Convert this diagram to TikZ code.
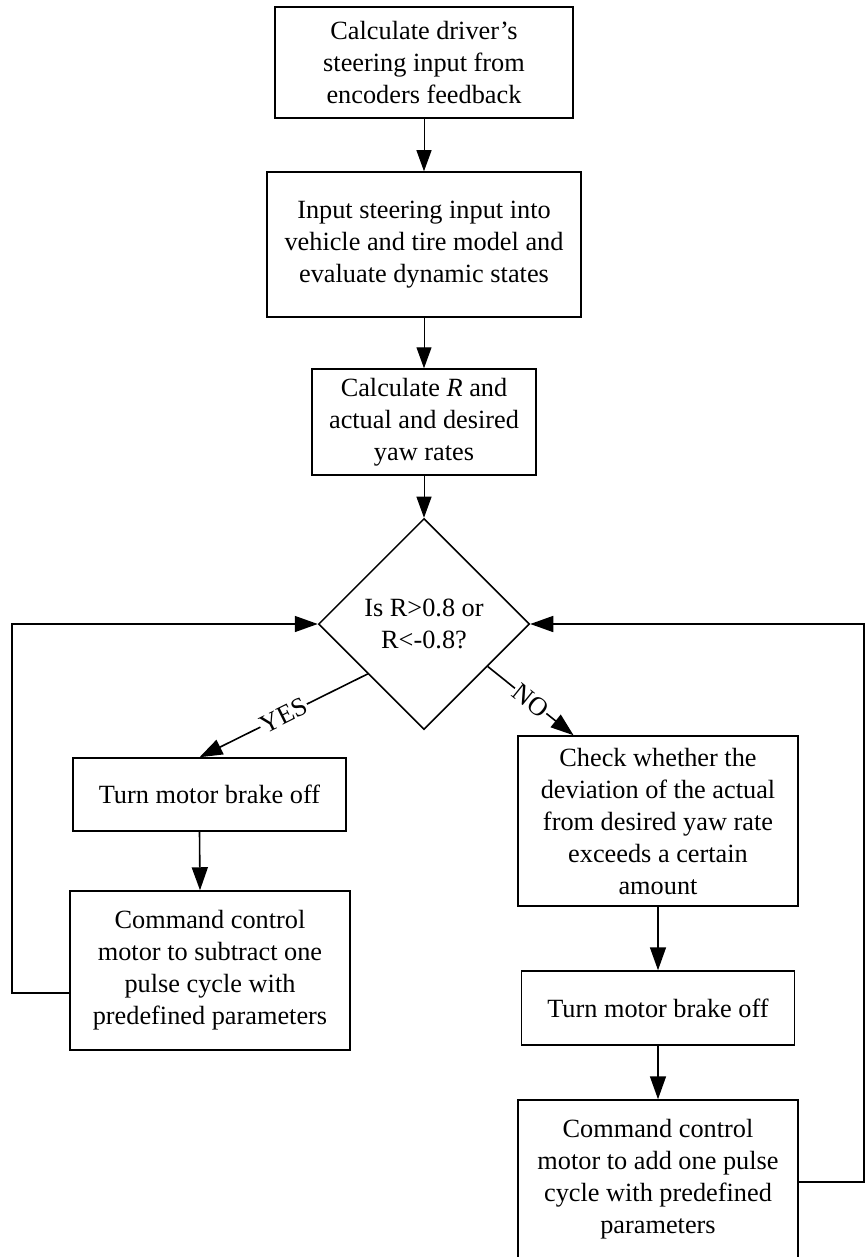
\documentclass[tikz,border=0pt]{standalone}
\usepackage{fontspec}
\setmainfont{Liberation Serif}
\usetikzlibrary{arrows.meta,shapes.geometric,calc}

\begin{document}
\begin{tikzpicture}[x=1pt,y=-1pt,
    every node/.style={font=\fontsize{26.3}{32}\selectfont},
    box/.style={draw,line width=1.5pt,align=center,inner sep=0pt},
    thinflow/.style={line width=1pt,-{Triangle[length=21pt,width=15pt]}},
    flow/.style={line width=1.6pt,-{Triangle[length=23pt,width=16pt]}},
    tag/.style={fill=white,inner sep=1pt,sloped}]
  \useasboundingbox (0,0) rectangle (865,1257);
  %% main column
  \node[box,minimum width=298pt,minimum height=111pt] (enc) at (424,62.5)
    {Calculate driver’s\\steering input from\\encoders feedback};
  \node[box,minimum width=314pt,minimum height=145pt] (model) at (424,244.5)
    {Input steering input into\\vehicle and tire model and\\evaluate dynamic states};
  \node[box,minimum width=224pt,minimum height=106pt] (ratio) at (424,422)
    {Calculate \textit{R} and\\actual and desired\\yaw rates};
  \node[draw,diamond,aspect=1,line width=1.5pt,inner sep=0pt,align=center,
        minimum width=211pt,minimum height=211pt] (test) at (424,624)
    {Is R>0.8 or\\R<-0.8?};
  %% YES branch
  \node[box,minimum width=273pt,minimum height=73pt] (yesoff) at (209.5,794.5)
    {Turn motor brake off};
  \node[box,minimum width=280pt,minimum height=159pt] (yescmd) at (210,970.5)
    {Command control\\motor to subtract one\\pulse cycle with\\predefined parameters};
  %% NO branch
  \node[box,minimum width=280pt,minimum height=170pt] (dev) at (658,821)
    {Check whether the\\deviation of the actual\\from desired yaw rate\\exceeds a certain\\amount};
  \node[box,minimum width=273pt,minimum height=74pt] (nooff) at (658,1008)
    {Turn motor brake off};
  \node[box,minimum width=280pt,minimum height=159pt] (nocmd) at (658,1179.5)
    {Command control\\motor to add one pulse\\cycle with predefined\\parameters};
  %% connectors
  \draw[thinflow] (enc) -- (model);
  \draw[thinflow] (model) -- (ratio);
  \draw[thinflow] (ratio) -- (test);
  \draw[flow] ($(test.west)!0.47!(test.south)$) -- node[tag]{YES}
    ([xshift=-10pt]yesoff.north);
  \draw[flow] ($(test.east)!0.4!(test.south)$) -- node[tag]{NO}
    ($(dev.north west)!0.2!(dev.north east)$);
  \draw[flow] ([xshift=-10pt]yesoff.south) -- ([xshift=-10pt]yescmd.north);
  \draw[flow] (dev) -- (nooff);
  \draw[flow] (nooff) -- (nocmd);
  %% loops back to the test
  \coordinate (lft) at (12,993);
  \draw[flow] (lft -| yescmd.west) -- (lft) |- (test.west);
  \coordinate (rgt) at (864,1182);
  \draw[flow] (rgt -| nocmd.east) -- (rgt) |- (test.east);
\end{tikzpicture}
\end{document}
